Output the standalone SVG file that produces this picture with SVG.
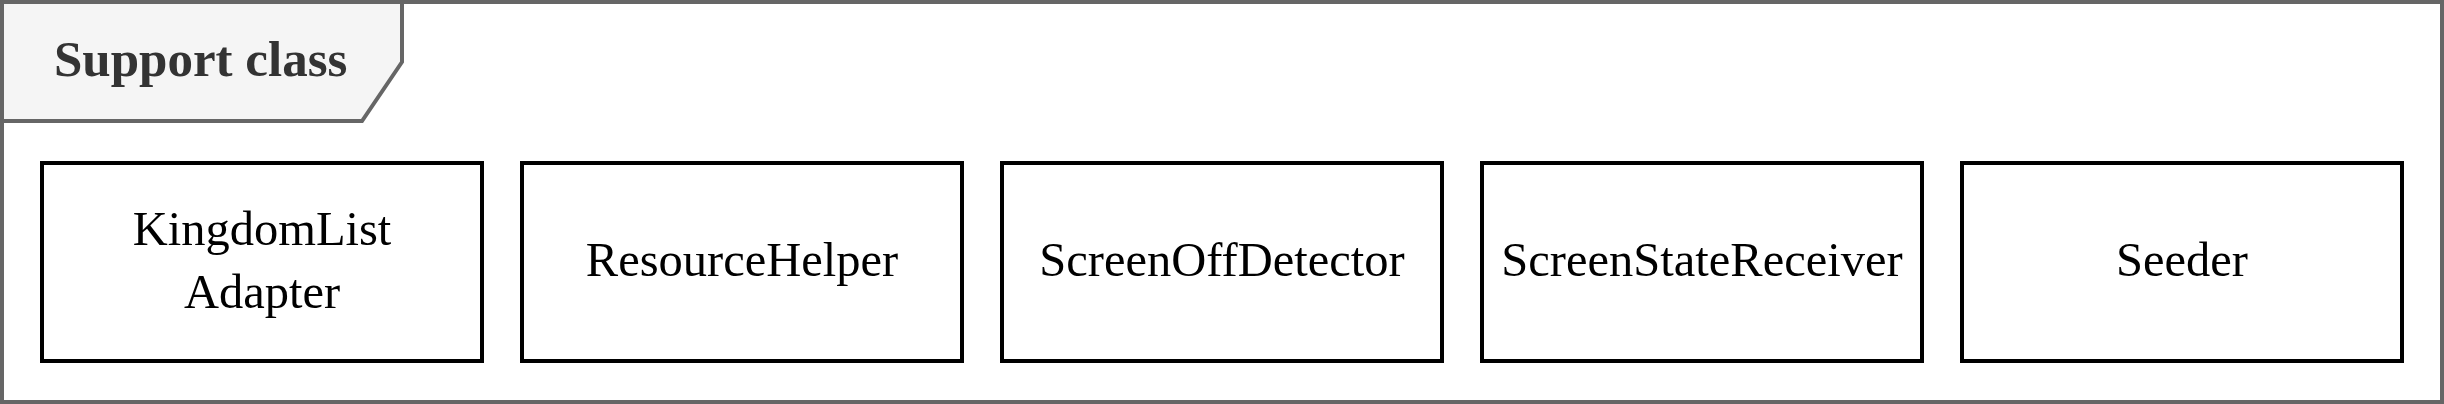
<svg xmlns="http://www.w3.org/2000/svg" width="2444" height="404" viewBox="0 0 2444 404">
<style>
.frame{fill:#ffffff;stroke:#666666;stroke-width:4}
.tab{fill:#f5f5f5;stroke:#666666;stroke-width:4}
.title{font-family:"Liberation Serif","Times New Roman",serif;font-size:51px;font-weight:bold;fill:#333333}
.box{fill:#ffffff;stroke:#000000;stroke-width:4}
.label{font-family:"Liberation Serif","Times New Roman",serif;font-size:48.5px;fill:#000000;text-anchor:middle}
</style>
<rect class="frame" x="2" y="2" width="2440" height="400"/>
<g id="frame-tab">
<path class="tab" d="M2,2 L402,2 L402,62 L362,121 L2,121 Z"/>
<text class="title" x="54" y="76">Support class</text>
</g>
<g id="connectors"></g>
<g id="KingdomListAdapter">
<rect class="box" x="42" y="163" width="440" height="198"/>
<text class="label" x="262" y="245">KingdomList</text>
<text class="label" x="262" y="308">Adapter</text>
</g>
<g id="ResourceHelper">
<rect class="box" x="522" y="163" width="440" height="198"/>
<text class="label" x="742" y="276">ResourceHelper</text>
</g>
<g id="ScreenOffDetector">
<rect class="box" x="1002" y="163" width="440" height="198"/>
<text class="label" x="1222" y="276">ScreenOffDetector</text>
</g>
<g id="ScreenStateReceiver">
<rect class="box" x="1482" y="163" width="440" height="198"/>
<text class="label" x="1702" y="276">ScreenStateReceiver</text>
</g>
<g id="Seeder">
<rect class="box" x="1962" y="163" width="440" height="198"/>
<text class="label" x="2182" y="276">Seeder</text>
</g>
</svg>
